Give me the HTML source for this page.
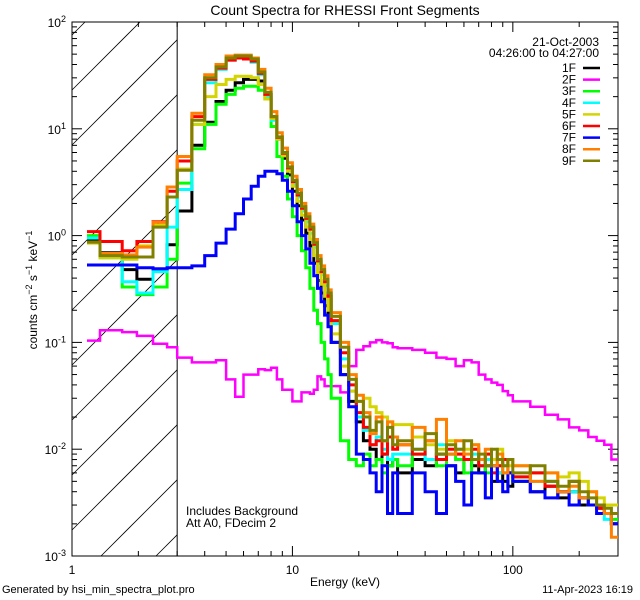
<!DOCTYPE html>
<html><head><meta charset="utf-8">
<style>
html,body{margin:0;padding:0;background:#fff;width:640px;height:600px;overflow:hidden;}
svg{display:block;font-family:"Liberation Sans",sans-serif;}
</style></head>
<body>
<svg id="chart" width="640" height="600" viewBox="0 0 640 600">
<rect x="0" y="0" width="640" height="600" fill="#fff"/>
<defs><clipPath id="plotClip"><rect x="72" y="22" width="546" height="534"/></clipPath></defs>
<g id="hatch"></g>
<g id="axes"></g>
<g id="series" clip-path="url(#plotClip)"></g>
<text x="345" y="15" font-size="14" text-anchor="middle">Count Spectra for RHESSI Front Segments</text>
<text x="345" y="586" font-size="12" text-anchor="middle">Energy (keV)</text>
<text transform="translate(37,290) rotate(-90)" font-size="12" text-anchor="middle">counts cm<tspan dy="-5" font-size="9">−2</tspan><tspan dy="5"> s</tspan><tspan dy="-5" font-size="9">−1</tspan><tspan dy="5"> keV</tspan><tspan dy="-5" font-size="9">−1</tspan></text>
<text x="2" y="593" font-size="11">Generated by hsi_min_spectra_plot.pro</text>
<text x="633" y="593" font-size="11" text-anchor="end">11-Apr-2023 16:19</text>
<text x="186" y="515" font-size="12">Includes Background</text>
<text x="186" y="527" font-size="12">Att A0, FDecim 2</text>
<text x="599" y="46" font-size="12" text-anchor="end">21-Oct-2003</text>
<text x="599" y="57" font-size="12" text-anchor="end">04:26:00 to 04:27:00</text>
<g id="legend"></g>
</svg>
<script>
const edges = [1.17,1.34,1.69,1.97,2.33,2.70,3.0,3.5,4,4.5,5,5.5,6,6.5,7,7.5,8,8.5,9,9.5,10,10.5,11,11.5,12,12.5,13,13.5,14,14.5,15,16.5,18,19.5,21,22.5,24,25.5,27,28.5,30,35,40,45,50,55,60,65,70,75,80,85,90,95,100,120,140,160,180,200,220,240,260,280,300];
const seriesNames = ["1F","2F","3F","4F","5F","6F","7F","8F","9F"];
const seriesColors = ["#000000","#ff00ff","#00ff00","#00ffff","#d4d400","#ff0000","#0000ff","#ff8000","#808000"];
const s1F = [0.92,0.69,0.48,0.39,0.48,0.82, 1.7,7,11.5,18,23,27,29,29,28,21,13,8,5.3,3.7,2.6,1.9,1.4,1.05,0.8,0.55,0.38,0.29,0.22,0.16, 0.1,0.05,0.028,0.018,0.012,0.01,0.008,0.009,0.007,0.008, 0.006,0.008,0.007,0.009,0.007,0.006,0.008,0.007,0.006,0.007,0.005,0.006,0.005,0.0045, 0.005,0.004,0.0045,0.0035,0.004,0.003,0.003,0.0028,0.0025,0.002];
const s2F = [0.104,0.13,0.125,0.115,0.097,0.09, 0.072,0.065,0.065,0.068,0.045,0.031,0.05,0.05,0.056,0.055,0.058,0.045,0.036,0.036,0.028,0.028,0.034,0.034,0.033,0.036,0.048,0.045,0.039,0.039, 0.039,0.034,0.06,0.085,0.092,0.1,0.105,0.1,0.098,0.09, 0.088,0.085,0.08,0.072,0.07,0.06,0.068,0.065,0.05,0.045,0.042,0.04,0.035,0.032, 0.028,0.025,0.021,0.019,0.016,0.015,0.013,0.012,0.011,0.008];
const s3F = [1.0,0.65,0.33,0.28,0.33,0.6, 3.1,6.5,11,17,21,24,25,25,23,19,10.5,5.5,3.6,2.2,1.5,1.0,0.72,0.5,0.32,0.2,0.15,0.1,0.07,0.05, 0.03,0.012,0.008,0.007,0.009,0.007,0.008,0.006,0.007,0.008, 0.007,0.009,0.008,0.007,0.009,0.008,0.006,0.008,0.007,0.006,0.008,0.007,0.006,0.006, 0.005,0.006,0.005,0.004,0.005,0.0035,0.003,0.003,0.0025,0.0022];
const s4F = [0.95,0.62,0.37,0.29,0.46,1.2, 2.7,11,27,36,44,46,45,42,32,20,12,8,5.6,4.1,3.0,2.3,1.7,1.35,1.05,0.78,0.55,0.43,0.34,0.25, 0.15,0.07,0.035,0.02,0.015,0.011,0.013,0.01,0.008,0.009, 0.009,0.01,0.008,0.011,0.009,0.01,0.008,0.009,0.007,0.008,0.007,0.006,0.007,0.006, 0.0055,0.005,0.005,0.004,0.004,0.0035,0.003,0.003,0.0022,0.002];
const s5F = [0.85,0.62,0.6,0.8,1.25,2.3, 4.2,11,20,26,29,31,31,30,26,19,12.5,8.0,5.6,4.0,2.9,2.1,1.55,1.2,0.92,0.65,0.45,0.35,0.27,0.2, 0.12,0.06,0.035,0.028,0.03,0.025,0.022,0.02,0.018,0.017, 0.017,0.013,0.011,0.01,0.012,0.009,0.01,0.011,0.008,0.009,0.008,0.01,0.008,0.007, 0.007,0.006,0.006,0.0055,0.006,0.005,0.004,0.0035,0.003,0.003];
const s6F = [1.09,0.88,0.72,0.88,1.35,2.6, 5.0,13,29,37,44,46,45,43,33,21,13,8.3,5.9,4.3,3.2,2.4,1.8,1.45,1.15,0.83,0.58,0.46,0.37,0.27, 0.16,0.08,0.04,0.022,0.016,0.011,0.012,0.009,0.013,0.01, 0.011,0.009,0.012,0.008,0.01,0.009,0.008,0.01,0.007,0.009,0.006,0.007,0.008,0.006, 0.0055,0.006,0.0045,0.004,0.005,0.0035,0.003,0.0028,0.0025,0.002];
const s7F = [0.53,0.53,0.53,0.5,0.49,0.5, 0.5,0.52,0.65,0.85,1.15,1.6,2.2,2.9,3.6,4.0,4.0,3.8,3.3,2.6,1.9,1.35,1.0,0.75,0.55,0.42,0.32,0.24,0.18,0.14, 0.1,0.05,0.025,0.009,0.008,0.006,0.004,0.007,0.0025,0.006, 0.0025,0.006,0.004,0.0025,0.007,0.005,0.003,0.006,0.006,0.0035,0.007,0.005,0.004,0.006, 0.005,0.004,0.0035,0.004,0.003,0.0035,0.003,0.0025,0.0025,0.002];
const s8F = [0.87,0.68,0.66,0.78,1.33,2.85, 5.5,14,32,40,48,49,49,46,36,24,14.5,9.2,6.6,4.8,3.6,2.7,2.0,1.6,1.28,0.92,0.65,0.52,0.42,0.31, 0.19,0.1,0.05,0.032,0.022,0.014,0.02,0.012,0.018,0.013, 0.011,0.016,0.012,0.019,0.009,0.012,0.009,0.011,0.008,0.01,0.007,0.009,0.006,0.008, 0.007,0.005,0.006,0.004,0.0045,0.0035,0.004,0.003,0.0025,0.0015];
const s9F = [0.87,0.65,0.63,0.63,1.2,2.3, 4.1,12,30,38,46,48,48,45,34,22,13,8.4,6,4.4,3.3,2.5,1.87,1.5,1.2,0.86,0.6,0.48,0.39,0.29, 0.175,0.09,0.045,0.028,0.02,0.015,0.018,0.012,0.016,0.011, 0.012,0.010,0.014,0.009,0.011,0.010,0.012,0.008,0.009,0.007,0.010,0.008,0.007,0.008, 0.006,0.007,0.005,0.0045,0.005,0.004,0.0035,0.003,0.0028,0.0025];
const seriesValues = [s1F,s2F,s3F,s4F,s5F,s6F,s7F,s8F,s9F];
const xTickValues = [1,10,100];
const xTickLabels = ["1","10","100"];
const yTickExponents = [-3,-2,-1,0,1,2];

const NS = "http://www.w3.org/2000/svg";
const X0=72, X1=618, Y0=556, Y1=22;
const XMIN=1, XMAX=300, YMIN=1e-3, YMAX=1e2;
function xScale(e){return X0+(Math.log10(e)-Math.log10(XMIN))/(Math.log10(XMAX)-Math.log10(XMIN))*(X1-X0);}
function yScale(v){return Y0-(Math.log10(v)-Math.log10(YMIN))/(Math.log10(YMAX)-Math.log10(YMIN))*(Y0-Y1);}
function mk(tag, attrs, parent){const el=document.createElementNS(NS,tag);for(const k in attrs)el.setAttribute(k,attrs[k]);parent.appendChild(el);return el;}

// hatch lines computed inside the region (x 72..177, y 22..556), slope -1
const hatch=document.getElementById('hatch');
const HX0=72, HX1=xScale(3);
for(let k=-2;k<14;k++){
  const yb=90+k*55; // y at x=HX0; line: y = yb - (x-HX0)
  let xa=HX0, xb=HX1;
  // constraint y<=556 -> x >= HX0 + yb - 556
  xa=Math.max(xa, HX0+yb-Y0);
  // constraint y>=22 -> x <= HX0 + yb - 22
  xb=Math.min(xb, HX0+yb-Y1);
  if(xb<=xa) continue;
  const ln=mk('line',{x1:xa,y1:yb-(xa-HX0),x2:xb,y2:yb-(xb-HX0),stroke:'#000','stroke-width':0.8},hatch);
  
  
}
const axes=document.getElementById('axes');
const fr=mk('rect',{x:X0,y:Y1,width:X1-X0,height:Y0-Y1,fill:'none',stroke:'#000','stroke-width':1},axes);


const vl=mk('line',{x1:HX1,y1:Y1,x2:HX1,y2:Y0,stroke:'#000','stroke-width':1},axes);


for(let d=0;d<3;d++){
  for(let m=1;m<10;m++){
    const e=Math.pow(10,d)*m; if(e>XMAX) break;
    const x=xScale(e); const len=m===1?10:5;
    const t1=mk('line',{x1:x,y1:Y0,x2:x,y2:Y0-len,stroke:'#000','stroke-width':1},axes);
    
    
    const t2=mk('line',{x1:x,y1:Y1,x2:x,y2:Y1+len,stroke:'#000','stroke-width':1},axes);
    
    
  }
}
xTickValues.forEach((v,i)=>{
  const t=mk('text',{x:xScale(v),y:574,'font-size':12,'text-anchor':'middle'},axes);
  t.textContent=xTickLabels[i];
  
  
});
yTickExponents.forEach(p=>{
  for(let m=1;m<10;m++){
    const v=Math.pow(10,p)*m; if(v>YMAX) break;
    const y=yScale(v); const len=m===1?10:5;
    const t1=mk('line',{x1:X0,y1:y,x2:X0+len,y2:y,stroke:'#000','stroke-width':1},axes);
    
    
    const t2=mk('line',{x1:X1,y1:y,x2:X1-len,y2:y,stroke:'#000','stroke-width':1},axes);
    
    
  }
  const y=yScale(Math.pow(10,p));
  const t=mk('text',{x:66,y:y+5,'font-size':12,'text-anchor':'end'},axes);
  
  
  const a=document.createElementNS(NS,'tspan');a.textContent='10';t.appendChild(a);
  const b=document.createElementNS(NS,'tspan');b.setAttribute('dy','-5');b.setAttribute('font-size','9');b.textContent=String(p);t.appendChild(b);
});
const sg=document.getElementById('series');
seriesValues.forEach((vals,si)=>{
  let d='';
  vals.forEach((v,i)=>{
    const xa=xScale(edges[i]).toFixed(1), xb=xScale(edges[i+1]).toFixed(1), y=yScale(v).toFixed(1);
    d+=(i===0?'M':'L')+xa+','+y+'L'+xb+','+y;
  });
  const p=mk('path',{d:d,fill:'none',stroke:seriesColors[si],'stroke-width':si===1?2.5:3,'stroke-linejoin':'miter'},sg);
  
  
});
const lg=document.getElementById('legend');
seriesNames.forEach((n,i)=>{
  const y=68+i*11.6;
  const t=mk('text',{x:576,y:y+4,'font-size':12,'text-anchor':'end'},lg);
  t.textContent=n;
  
  
  const l=mk('line',{x1:583,y1:y,x2:600,y2:y,stroke:seriesColors[i],'stroke-width':2.5},lg);
  
  
});
</script>
</body></html>
